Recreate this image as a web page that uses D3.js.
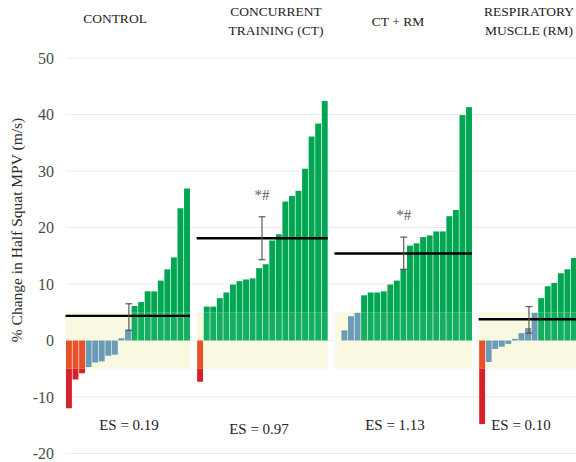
<!DOCTYPE html>
<html>
<head>
<meta charset="utf-8">
<script src="https://cdn.jsdelivr.net/npm/d3@7"></script>
<style>
  html, body { margin: 0; padding: 0; background: #fff; }
  svg { display: block; }
  svg text { font-family: "Liberation Serif", "Times New Roman", serif !important; }
</style>
</head>
<body>
<svg id="chart" width="576" height="462"></svg>
<script>
// Individual % change in half squat MPV, sorted within each group
const groups = ["CONTROL", "CONCURRENT TRAINING (CT)", "CT + RM", "RESPIRATORY MUSCLE (RM)"];
const titleLines = [["CONTROL"], ["CONCURRENT", "TRAINING (CT)"], ["CT + RM"], ["RESPIRATORY", "MUSCLE (RM)"]];
const controlValues = [-12.0, -6.9, -5.8, -4.7, -3.9, -3.7, -2.7, -2.5, 0.4, 1.9, 6.1, 6.8, 8.7, 8.7, 10.6, 12.6, 14.7, 23.4, 26.9];
const ctValues = [-7.3, 6.0, 6.0, 7.5, 8.5, 9.9, 10.5, 10.8, 11.0, 12.8, 13.5, 17.7, 18.8, 24.6, 25.6, 26.5, 30.4, 36.1, 38.4, 42.4];
const ctRmValues = [0, 1.8, 4.3, 4.9, 8.0, 8.5, 8.5, 8.7, 9.9, 10.6, 12.6, 16.8, 17.2, 18.3, 18.6, 19.3, 19.3, 22.0, 23.1, 39.9, 41.3];
const rmValues = [-14.8, -3.8, -1.5, -1.1, -0.6, 0.3, 1.3, 2.2, 4.9, 7.5, 9.6, 10.2, 11.9, 12.6, 14.6];
const groupMeans = [4.35, 18.1, 15.4, 3.75];
const ciLow = [1.8, 14.3, 12.6, 1.3];
const ciHigh = [6.5, 21.9, 18.3, 6.0];
const effectSizes = ["0.19", "0.97", "1.13", "0.10"];
const significance = ["", "*#", "*#", ""];
const yTicks = [-20, -10, 0, 10, 20, 30, 40, 50];
const swc = 5; // trivial-change zone, ±5 %

const values = [controlValues, ctValues, ctRmValues, rmValues];
const SERIF = '"Liberation Serif", "Times New Roman", serif';

const svg = d3.select("#chart");
const W = 576, H = 462;

// One slot per participant, with an empty slot between groups
const slots = [];
const groupSlots = [];
values.forEach((arr, g) => {
  const ids = [];
  arr.forEach((v, i) => { const id = g + "-" + i; slots.push(id); ids.push(id); });
  groupSlots.push(ids);
  if (g < values.length - 1) slots.push("gap-" + g);
});

const step = 6.55;
const x = d3.scaleBand().domain(slots).range([66, 66 + slots.length * step]).paddingInner(0.1).paddingOuter(0);
const y = d3.scaleLinear().domain([-20, 50]).range([453.5, 58]);

// gridlines
svg.append("g").selectAll("line").data(yTicks).join("line")
  .attr("x1", 66).attr("x2", W)
  .attr("y1", d => y(d)).attr("y2", d => y(d))
  .attr("stroke", "#ececec").attr("stroke-width", 1.2);

// y axis (labels only)
const yAxis = d3.axisLeft(y).tickValues(yTicks).tickSize(0).tickPadding(0).tickFormat(d => String(d));
const gy = svg.append("g").attr("transform", "translate(54,0)").call(yAxis);
gy.select(".domain").remove();
gy.attr("font-family", null).attr("font-size", null);
gy.selectAll("text").style("font-family", SERIF).attr("font-size", 16).attr("fill", "#4a4a4a").attr("dy", "0.32em");

svg.append("text")
  .attr("transform", "translate(22,230) rotate(-90)")
  .attr("text-anchor", "middle")
  .style("font-family", SERIF)
  .attr("font-size", 15.5).attr("fill", "#2a2a2a")
  .text("% Change in Half Squat MPV (m/s)");

const colors = {
  green: "#00a651", greenZone: "#12ae62", blue: "#6b9bb6",
  orange: "#e8502c", red: "#d6202a", zone: "#f9f9e1"
};

// split a value into coloured segments
function segments(v) {
  if (v > swc) return [[0, swc, colors.greenZone], [swc, v, colors.green]];
  if (v >= -swc) return [[Math.min(0, v), Math.max(0, v), colors.blue]];
  return [[-swc, 0, colors.orange], [v, -swc, colors.red]];
}

values.forEach((arr, g) => {
  const ids = groupSlots[g];
  const x0 = x(ids[0]);
  const x1 = x(ids[ids.length - 1]) + x.bandwidth();
  const gEl = svg.append("g");

  // trivial-change zone
  gEl.append("rect").attr("x", x0 - 0.5).attr("width", x1 - x0 + 0.5)
    .attr("y", y(swc)).attr("height", y(-swc) - y(swc)).attr("fill", colors.zone);

  // bars
  const segs = [];
  arr.forEach((v, i) => segments(v).forEach(s => segs.push({ id: ids[i], lo: s[0], hi: s[1], c: s[2] })));
  gEl.selectAll("rect.bar").data(segs).join("rect").attr("class", "bar")
    .attr("x", d => x(d.id)).attr("width", x.bandwidth())
    .attr("y", d => y(d.hi)).attr("height", d => y(d.lo) - y(d.hi))
    .attr("fill", d => d.c);

  // group mean
  gEl.append("line").attr("x1", x0 - 0.5).attr("x2", x1)
    .attr("y1", y(groupMeans[g])).attr("y2", y(groupMeans[g]))
    .attr("stroke", "#000").attr("stroke-width", 2.4);

  // confidence interval
  const ciSlot = [9.6, 9.9, 10.5, 7.6][g];
  const cx = x0 + ciSlot * step;
  gEl.append("line").attr("x1", cx).attr("x2", cx).attr("y1", y(ciHigh[g])).attr("y2", y(ciLow[g]))
    .attr("stroke", "#555").attr("stroke-width", 1.3).attr("stroke-opacity", 0.9);
  [ciLow[g], ciHigh[g]].forEach(v => gEl.append("line")
    .attr("x1", cx - 3.5).attr("x2", cx + 3.5).attr("y1", y(v)).attr("y2", y(v))
    .attr("stroke", "#555").attr("stroke-width", 1.3).attr("stroke-opacity", 0.9));

  if (significance[g]) {
    gEl.append("text").attr("x", cx).attr("y", y(ciHigh[g]) - 17)
      .attr("text-anchor", "middle").style("font-family", SERIF)
      .attr("font-size", 15).attr("fill", "#555")
      .text(significance[g]);
  }

  // titles
  const tcx = [115, 276, 398, 529][g];
  const lines = titleLines[g];
  lines.forEach((t, k) => {
    svg.append("text").attr("x", tcx)
      .attr("y", lines.length === 1 ? [23, 0, 26][g] : 16 + k * 19)
      .attr("text-anchor", "middle").style("font-family", SERIF)
      .attr("font-size", 13.5).attr("fill", "#222").text(t);
  });

  // effect size
  svg.append("text").attr("x", [129, 259, 395, 521][g]).attr("y", [430, 434, 430, 430][g])
    .attr("text-anchor", "middle").style("font-family", SERIF)
    .attr("font-size", 15).attr("fill", "#222")
    .text("ES = " + effectSizes[g]);
});
</script>
</body>
</html>
